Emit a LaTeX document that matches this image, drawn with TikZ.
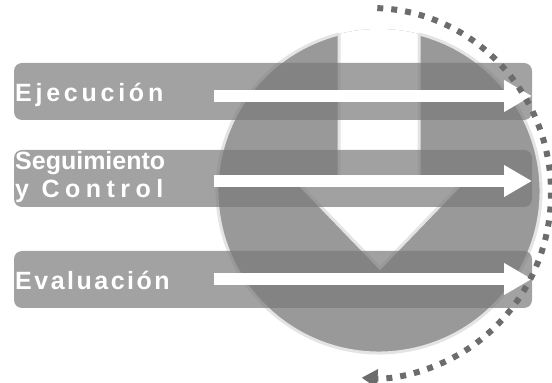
\documentclass[tikz,border=0pt]{standalone}
\usepackage{fontspec}
\setmainfont{Liberation Sans}
\usetikzlibrary{arrows.meta,positioning}
\definecolor{cDisc}{RGB}{153,153,153}
\definecolor{cBar}{RGB}{122,122,122}
\definecolor{cRim}{RGB}{228,228,228}
\definecolor{cDots}{RGB}{108,108,108}

\begin{document}
\begin{tikzpicture}[x=1pt, y=1pt,
	bar/.style={fill=cBar, fill opacity=0.7, rounded corners=8pt},
	txt/.style={anchor=base west, inner sep=0pt, text=white, font=\fontsize{25}{28}\selectfont\bfseries},
	flow/.style={white, line width=12pt, -{Triangle[length=28pt, width=30pt]}},
	dots/.style={cDots, line width=6pt, dash pattern=on 6pt off 8pt, -{Triangle[length=16pt, width=18pt]}}]
	\useasboundingbox (0,0) rectangle (552,383);
	\coordinate (c) at (379,192);
	% disc with the white arrow cut out
	\fill[cDisc] (c) circle[radius=162pt];
	\begin{scope}
		\clip (c) circle[radius=162pt];
		\filldraw[fill=white, draw=cRim, line width=3pt] (339,400) -- (339,199) -- (299,199) -- (380,115) -- (461,199) -- (419,199) -- (419,400);
	\end{scope}
	\draw[cRim, line width=3pt] (c) ++(104.3:162pt) arc[start angle=104.3, end angle=435.7, radius=162pt];
	% bars
	\foreach \n/\yb in {eje/263, seg/176, eva/75}
		\fill[bar] (14,\yb) rectangle (532,\yb+57);
	% labels
	\node[txt] (eje) at (15,281) {\addfontfeature{LetterSpace=15}Ejecución};
	\node[txt, align=left] (seg) at (15,185) {Seguimiento\\\addfontfeature{LetterSpace=22}y Control};
	\node[txt] (eva) at (15,93) {\addfontfeature{LetterSpace=10}Evaluación};
	% white arrows
	\foreach \n/\ya in {eje/287, seg/202, eva/104} {
		\coordinate (\n-a) at (214,\ya);
		\coordinate (\n-b) at (532,\ya);
		\draw[flow] (\n-a) -- (\n-b);
	}
	% dotted cycle
	\coordinate (o) at (371,190);
	\draw[dots] (o) ++(88:180pt and 185pt) arc[start angle=88, end angle=-93, x radius=180pt, y radius=185pt];
\end{tikzpicture}
\end{document}
